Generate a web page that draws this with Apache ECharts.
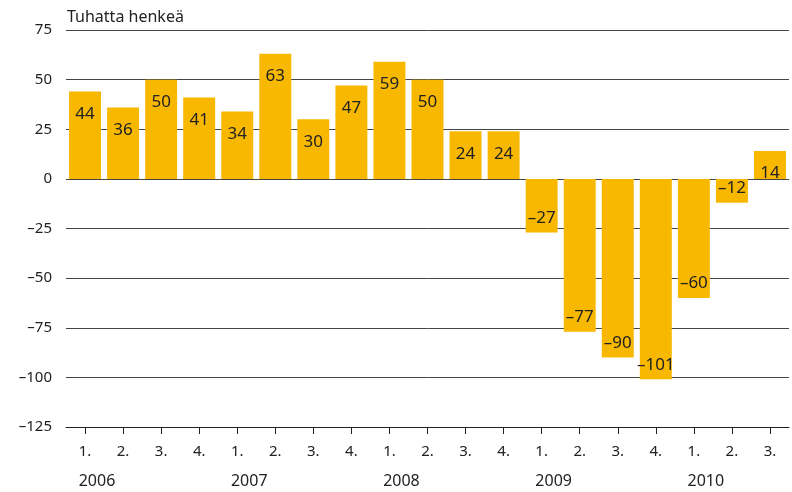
<!DOCTYPE html>
<html>
<head>
<meta charset="utf-8">
<script src="https://cdn.jsdelivr.net/npm/echarts@6/dist/echarts.min.js"></script>
<style>
  html, body { margin: 0; padding: 0; background: #fff; }
  #chart { width: 792px; height: 492px; }
</style>
</head>
<body>
<div id="chart"></div>
<script>
const quarters = ['1.', '2.', '3.', '4.', '1.', '2.', '3.', '4.', '1.', '2.', '3.', '4.', '1.', '2.', '3.', '4.', '1.', '2.', '3.']
const years = ['2006', '', '', '', '2007', '', '', '', '2008', '', '', '', '2009', '', '', '', '2010', '', '']
const values = [44, 36, 50, 41, 34, 63, 30, 47, 59, 50, 24, 24, -27, -77, -90, -101, -60, -12, 14]
const yTicks = [-125, -100, -75, -50, -25, 0, 25, 50, 75]

const FONT = '"Noto Sans", "Open Sans", sans-serif'
const TEXT = '#222'
const dash = v => (v < 0 ? '\u2013' + Math.abs(v) : String(v))

const chart = echarts.init(document.getElementById('chart'))
chart.setOption({
  animation: false,
  textStyle: { fontFamily: FONT },
  title: {
    text: 'Tuhatta henkeä',
    left: 62,
    top: 4,
    textStyle: { fontSize: 16, fontWeight: 'normal', color: TEXT, fontFamily: FONT },
  },
  grid: { left: 66, right: 3, top: 30, bottom: 65 },
  xAxis: [
    {
      type: 'category',
      data: quarters.map((q, i) => i),
      position: 'bottom',
      axisLine: { onZero: false, lineStyle: { color: '#222', width: 1 } },
      axisTick: { show: true, alignWithLabel: true, length: 7, lineStyle: { color: '#222', width: 1 } },
      axisLabel: {
        interval: 0,
        margin: 17,
        fontSize: 15,
        color: TEXT,
        formatter: i => quarters[i],
      },
    },
    {
      type: 'category',
      data: years.map((y, i) => i),
      position: 'bottom',
      axisLine: { show: false },
      axisTick: { show: false },
      axisLabel: {
        interval: 0,
        margin: 46,
        fontSize: 16,
        color: TEXT,
        padding: [0, 0, 0, 24],
        formatter: i => years[i],
      },
    },
  ],
  yAxis: {
    type: 'value',
    min: -125,
    max: 75,
    interval: 25,
    axisLine: { show: false },
    axisTick: { show: false },
    axisLabel: {
      fontSize: 15,
      color: TEXT,
      margin: 14,
      formatter: v => (yTicks.includes(v) ? dash(v) : ''),
    },
    splitLine: { lineStyle: { color: '#444', width: 1 } },
  },
  series: [
    {
      type: 'bar',
      xAxisIndex: 0,
      data: values.map(v => ({
        value: v,
        label: {
          position: v < 0 ? 'insideBottom' : 'insideTop',
          distance: v < 0 ? 6 : 14,
        },
      })),
      barCategoryGap: '16%',
      itemStyle: { color: '#F9B800' },
      z: 3,
      label: {
        show: true,
        fontSize: 17,
        color: TEXT,
        formatter: p => dash(p.value),
      },
    },
  ],
})
</script>
</body>
</html>
